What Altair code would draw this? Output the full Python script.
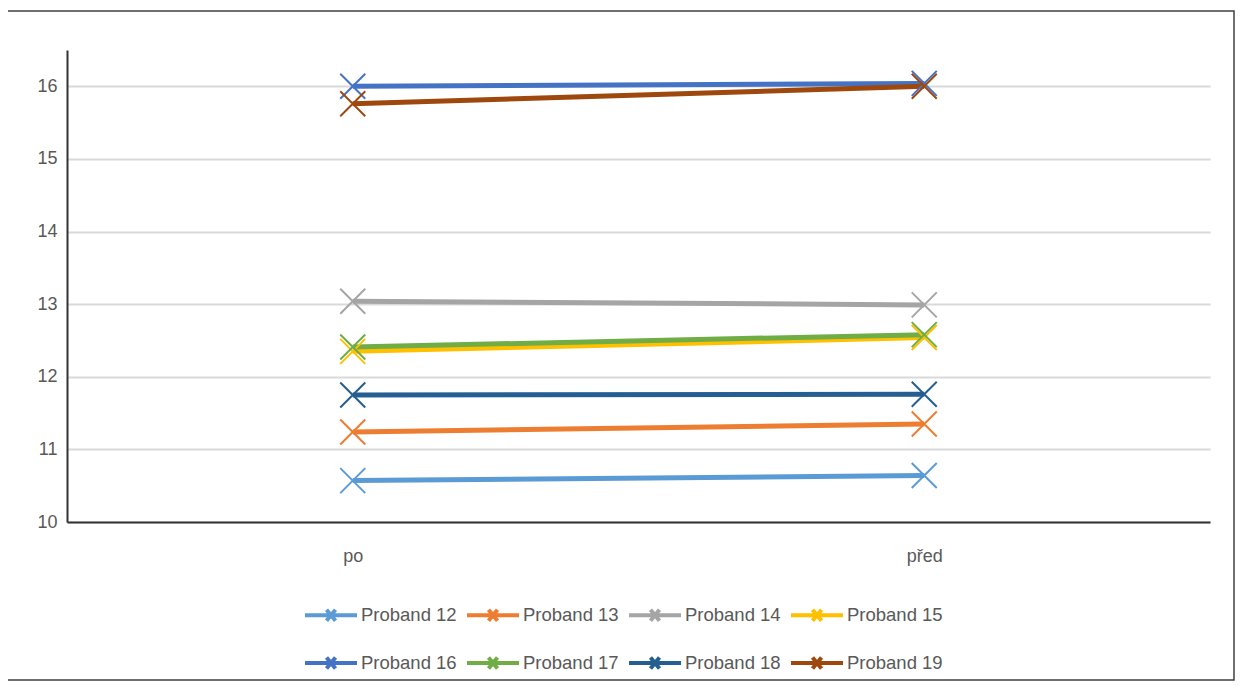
import altair as alt
import pandas as pd

series = ["Proband 12", "Proband 13", "Proband 14", "Proband 15",
          "Proband 16", "Proband 17", "Proband 18", "Proband 19"]
po = [10.57, 11.24, 13.04, 12.35, 16.0, 12.41, 11.75, 15.76]
pred = [10.64, 11.35, 12.99, 12.54, 16.04, 12.58, 11.76, 16.0]
categories = ["po", "před"]
colors = ["#5B9BD5", "#ED7D31", "#A5A5A5", "#FFC000",
          "#4472C4", "#70AD47", "#255E91", "#9E480E"]
y_ticks = [10, 11, 12, 13, 14, 15, 16]

rows = []
for s, a, b in zip(series, po, pred):
    rows.append({"series": s, "cat": categories[0], "value": a})
    rows.append({"series": s, "cat": categories[1], "value": b})
df = pd.DataFrame(rows)

FONT = "Liberation Sans Narrow, Liberation Sans, sans-serif"
TXT = "#595959"

x = alt.X("cat:N", sort=categories, title=None,
          scale=alt.Scale(type="point", padding=0.5),
          axis=alt.Axis(labelAngle=0, ticks=False, grid=False, domainColor="#333333",
                        domainWidth=2, labelPadding=25, labelFontSize=18,
                        labelColor=TXT, labelFont=FONT))
y = alt.Y("value:Q", title=None,
          scale=alt.Scale(domain=[10, 16.5], nice=False, zero=False),
          axis=alt.Axis(values=y_ticks, ticks=False, grid=True, gridColor="#D9D9D9",
                        gridWidth=2, domainColor="#333333", domainWidth=2,
                        labelPadding=10, labelFontSize=18, labelColor=TXT, labelFont=FONT))
color = alt.Color("series:N", sort=series,
                  scale=alt.Scale(domain=series, range=colors),
                  legend=alt.Legend(title=None, orient="none", legendX=252, legendY=553,
                                    columns=4, direction="horizontal",
                                    symbolType="M-2.6,0L2.6,0M-0.45,-0.55L0.45,0.55M-0.45,0.55L0.45,-0.55",
                                    symbolSize=400, symbolStrokeWidth=4,
                                    labelFontSize=18.5, labelColor=TXT, labelFont=FONT,
                                    labelOffset=18, columnPadding=2, rowPadding=20,
                                    labelLimit=200))

base = alt.Chart(df)
lines = base.mark_line(strokeWidth=5).encode(x=x, y=y, color=color, detail="series:N")
points = base.mark_point(shape="M-1,-1L1,1M-1,1L1,-1", size=625, strokeWidth=2,
                         filled=False, opacity=1).encode(
    x=x, y=y, color=alt.Color("series:N", scale=alt.Scale(domain=series, range=colors),
                              legend=None))

border = alt.Chart(pd.DataFrame({"a": [0]})).mark_rect(
    fillOpacity=0, stroke="#404040", strokeWidth=1.5).encode(
    x=alt.value(-60), x2=alt.value(1167), y=alt.value(-39), y2=alt.value(630))

chart = alt.layer(border, lines, points).properties(
    width=1143, height=472,
    background="white",
    autosize=alt.AutoSizeParams(type="none"),
    padding={"left": 59, "top": 42, "right": 25, "bottom": 160},
).configure_view(strokeWidth=0, stroke="transparent")

chart.save("out.html", embed_options={"renderer": "svg", "actions": False})
